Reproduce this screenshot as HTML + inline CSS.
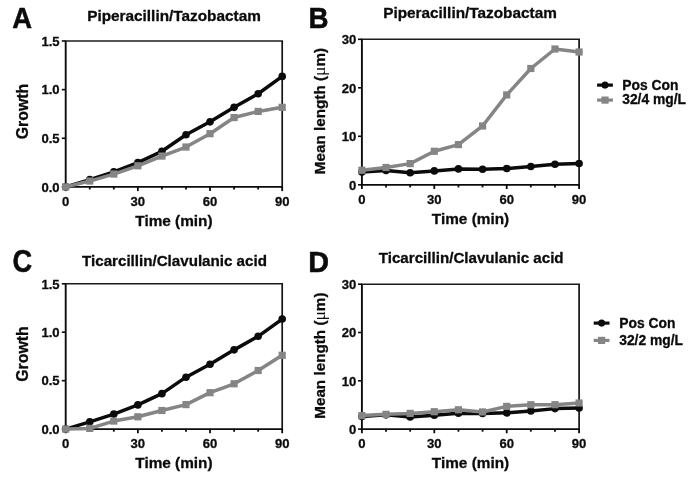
<!DOCTYPE html>
<html><head><meta charset="utf-8"><title>Figure</title>
<style>
html,body{margin:0;padding:0;background:#fff;}
body{width:697px;height:485px;overflow:hidden;}
svg{display:block;will-change:transform;}
text{font-family:"Liberation Sans",sans-serif;font-weight:bold;fill:#0b0b0b;stroke:#0b0b0b;stroke-width:0.3px;stroke-linejoin:round;}
.tk{font-size:13.5px;}
.ax{font-size:15.35px;}
.lt{font-size:28px;stroke-width:0.5px;}
.lg{font-size:13.85px;}
.mu{font-family:"Liberation Serif",serif;font-weight:normal;stroke-width:0;font-size:17.5px;}
</style></head><body>
<svg width="697" height="485" viewBox="0 0 697 485">
<rect x="0" y="0" width="697" height="485" fill="#ffffff"/>

<!-- panel A -->
<g>
<text class="lt" transform="translate(12.2,27.9) scale(0.98,1.05)">A</text>
<text x="174.0" y="20.7" font-size="15.35" text-anchor="middle">Piperacillin/Tazobactam</text>
<line x1="64.7" x2="283.1" y1="41" y2="41" stroke="#1c1c1c" stroke-width="1.45"/>
<line x1="282.2" x2="282.2" y1="41" y2="187.75" stroke="#141414" stroke-width="1.7"/>
<line x1="64.7" x2="282.2" y1="186.9" y2="186.9" stroke="#0b0b0b" stroke-width="1.7"/>
<line x1="65.7" x2="65.7" y1="41" y2="186.9" stroke="#0b0b0b" stroke-width="1.9"/>
<line x1="65.7" x2="65.7" y1="186.9" y2="191.1" stroke="#0b0b0b" stroke-width="1.8"/>
<line x1="89.76" x2="89.76" y1="186.9" y2="189.5" stroke="#0b0b0b" stroke-width="1.8"/>
<line x1="113.81" x2="113.81" y1="186.9" y2="189.5" stroke="#0b0b0b" stroke-width="1.8"/>
<line x1="137.87" x2="137.87" y1="186.9" y2="191.1" stroke="#0b0b0b" stroke-width="1.8"/>
<line x1="161.92" x2="161.92" y1="186.9" y2="189.5" stroke="#0b0b0b" stroke-width="1.8"/>
<line x1="185.98" x2="185.98" y1="186.9" y2="189.5" stroke="#0b0b0b" stroke-width="1.8"/>
<line x1="210.03" x2="210.03" y1="186.9" y2="191.1" stroke="#0b0b0b" stroke-width="1.8"/>
<line x1="234.09" x2="234.09" y1="186.9" y2="189.5" stroke="#0b0b0b" stroke-width="1.8"/>
<line x1="258.14" x2="258.14" y1="186.9" y2="189.5" stroke="#0b0b0b" stroke-width="1.8"/>
<line x1="282.2" x2="282.2" y1="186.9" y2="191.1" stroke="#0b0b0b" stroke-width="1.8"/>
<text class="tk" transform="translate(65.7,206.1) scale(0.97,1)" text-anchor="middle">0</text>
<text class="tk" transform="translate(137.87,206.1) scale(0.97,1)" text-anchor="middle">30</text>
<text class="tk" transform="translate(210.03,206.1) scale(0.97,1)" text-anchor="middle">60</text>
<text class="tk" transform="translate(282.2,206.1) scale(0.97,1)" text-anchor="middle">90</text>
<line x1="61.8" x2="65.7" y1="186.9" y2="186.9" stroke="#0b0b0b" stroke-width="1.6"/>
<text class="tk" transform="translate(59.6,191.7) scale(0.97,1)" text-anchor="end">0.0</text>
<line x1="61.8" x2="65.7" y1="138.27" y2="138.27" stroke="#0b0b0b" stroke-width="1.6"/>
<text class="tk" transform="translate(59.6,143.07) scale(0.97,1)" text-anchor="end">0.5</text>
<line x1="61.8" x2="65.7" y1="89.63" y2="89.63" stroke="#0b0b0b" stroke-width="1.6"/>
<text class="tk" transform="translate(59.6,94.43) scale(0.97,1)" text-anchor="end">1.0</text>
<line x1="61.8" x2="65.7" y1="41" y2="41" stroke="#0b0b0b" stroke-width="1.6"/>
<text class="tk" transform="translate(59.6,45.8) scale(0.97,1)" text-anchor="end">1.5</text>
<polyline points="65.7,186.9 89.76,179.61 113.81,171.82 137.87,162.58 161.92,151.3 185.98,134.77 210.03,121.83 234.09,107.34 258.14,93.72 282.2,76.41" fill="none" stroke="#0b0b0b" stroke-width="3.5" stroke-linejoin="round" stroke-linecap="round"/>
<circle cx="65.7" cy="186.9" r="3.8" fill="#0b0b0b"/>
<circle cx="89.76" cy="179.61" r="3.8" fill="#0b0b0b"/>
<circle cx="113.81" cy="171.82" r="3.8" fill="#0b0b0b"/>
<circle cx="137.87" cy="162.58" r="3.8" fill="#0b0b0b"/>
<circle cx="161.92" cy="151.3" r="3.8" fill="#0b0b0b"/>
<circle cx="185.98" cy="134.77" r="3.8" fill="#0b0b0b"/>
<circle cx="210.03" cy="121.83" r="3.8" fill="#0b0b0b"/>
<circle cx="234.09" cy="107.34" r="3.8" fill="#0b0b0b"/>
<circle cx="258.14" cy="93.72" r="3.8" fill="#0b0b0b"/>
<circle cx="282.2" cy="76.41" r="3.8" fill="#0b0b0b"/>
<polyline points="65.7,186.9 89.76,181.06 113.81,174.06 137.87,165.79 161.92,156.07 185.98,147.02 210.03,133.7 234.09,117.55 258.14,111.42 282.2,107.34" fill="none" stroke="#858585" stroke-width="3.5" stroke-linejoin="round" stroke-linecap="round"/>
<rect x="62.1" y="183.3" width="7.2" height="7.2" fill="#858585"/>
<rect x="86.16" y="177.46" width="7.2" height="7.2" fill="#858585"/>
<rect x="110.21" y="170.46" width="7.2" height="7.2" fill="#858585"/>
<rect x="134.27" y="162.19" width="7.2" height="7.2" fill="#858585"/>
<rect x="158.32" y="152.47" width="7.2" height="7.2" fill="#858585"/>
<rect x="182.38" y="143.42" width="7.2" height="7.2" fill="#858585"/>
<rect x="206.43" y="130.1" width="7.2" height="7.2" fill="#858585"/>
<rect x="230.49" y="113.95" width="7.2" height="7.2" fill="#858585"/>
<rect x="254.54" y="107.82" width="7.2" height="7.2" fill="#858585"/>
<rect x="278.6" y="103.74" width="7.2" height="7.2" fill="#858585"/>
<text class="ax" x="173.95" y="225.7" text-anchor="middle">Time (min)</text>
<text class="ax" style="font-size:15.9px" transform="translate(28.0,111.55) rotate(-90)" text-anchor="middle">Growth</text>
</g>
<!-- panel B -->
<g>
<text class="lt" transform="translate(308.5,28.0) scale(0.99,1.05)">B</text>
<text x="470.0" y="18.2" font-size="15.35" text-anchor="middle">Piperacillin/Tazobactam</text>
<line x1="360.9" x2="580" y1="39.3" y2="39.3" stroke="#1c1c1c" stroke-width="1.45"/>
<line x1="579.1" x2="579.1" y1="39.3" y2="185.65" stroke="#141414" stroke-width="1.7"/>
<line x1="360.9" x2="579.1" y1="184.8" y2="184.8" stroke="#0b0b0b" stroke-width="1.7"/>
<line x1="361.9" x2="361.9" y1="39.3" y2="184.8" stroke="#0b0b0b" stroke-width="1.9"/>
<line x1="361.9" x2="361.9" y1="184.8" y2="189" stroke="#0b0b0b" stroke-width="1.8"/>
<line x1="386.03" x2="386.03" y1="184.8" y2="187.4" stroke="#0b0b0b" stroke-width="1.8"/>
<line x1="410.17" x2="410.17" y1="184.8" y2="187.4" stroke="#0b0b0b" stroke-width="1.8"/>
<line x1="434.3" x2="434.3" y1="184.8" y2="189" stroke="#0b0b0b" stroke-width="1.8"/>
<line x1="458.43" x2="458.43" y1="184.8" y2="187.4" stroke="#0b0b0b" stroke-width="1.8"/>
<line x1="482.57" x2="482.57" y1="184.8" y2="187.4" stroke="#0b0b0b" stroke-width="1.8"/>
<line x1="506.7" x2="506.7" y1="184.8" y2="189" stroke="#0b0b0b" stroke-width="1.8"/>
<line x1="530.83" x2="530.83" y1="184.8" y2="187.4" stroke="#0b0b0b" stroke-width="1.8"/>
<line x1="554.97" x2="554.97" y1="184.8" y2="187.4" stroke="#0b0b0b" stroke-width="1.8"/>
<line x1="579.1" x2="579.1" y1="184.8" y2="189" stroke="#0b0b0b" stroke-width="1.8"/>
<text class="tk" transform="translate(361.9,204) scale(0.97,1)" text-anchor="middle">0</text>
<text class="tk" transform="translate(434.3,204) scale(0.97,1)" text-anchor="middle">30</text>
<text class="tk" transform="translate(506.7,204) scale(0.97,1)" text-anchor="middle">60</text>
<text class="tk" transform="translate(579.1,204) scale(0.97,1)" text-anchor="middle">90</text>
<line x1="358" x2="361.9" y1="184.8" y2="184.8" stroke="#0b0b0b" stroke-width="1.6"/>
<text class="tk" transform="translate(356.3,189.6) scale(0.97,1)" text-anchor="end">0</text>
<line x1="358" x2="361.9" y1="136.3" y2="136.3" stroke="#0b0b0b" stroke-width="1.6"/>
<text class="tk" transform="translate(356.3,141.1) scale(0.97,1)" text-anchor="end">10</text>
<line x1="358" x2="361.9" y1="87.8" y2="87.8" stroke="#0b0b0b" stroke-width="1.6"/>
<text class="tk" transform="translate(356.3,92.6) scale(0.97,1)" text-anchor="end">20</text>
<line x1="358" x2="361.9" y1="39.3" y2="39.3" stroke="#0b0b0b" stroke-width="1.6"/>
<text class="tk" transform="translate(356.3,44.1) scale(0.97,1)" text-anchor="end">30</text>
<polyline points="361.9,172.09 386.03,170.49 410.17,172.68 434.3,170.88 458.43,168.89 482.57,169.18 506.7,168.5 530.83,166.52 554.97,164.24 579.1,163.56" fill="none" stroke="#0b0b0b" stroke-width="3.5" stroke-linejoin="round" stroke-linecap="round"/>
<circle cx="361.9" cy="172.09" r="3.8" fill="#0b0b0b"/>
<circle cx="386.03" cy="170.49" r="3.8" fill="#0b0b0b"/>
<circle cx="410.17" cy="172.68" r="3.8" fill="#0b0b0b"/>
<circle cx="434.3" cy="170.88" r="3.8" fill="#0b0b0b"/>
<circle cx="458.43" cy="168.89" r="3.8" fill="#0b0b0b"/>
<circle cx="482.57" cy="169.18" r="3.8" fill="#0b0b0b"/>
<circle cx="506.7" cy="168.5" r="3.8" fill="#0b0b0b"/>
<circle cx="530.83" cy="166.52" r="3.8" fill="#0b0b0b"/>
<circle cx="554.97" cy="164.24" r="3.8" fill="#0b0b0b"/>
<circle cx="579.1" cy="163.56" r="3.8" fill="#0b0b0b"/>
<polyline points="361.9,170.25 386.03,167.49 410.17,163.61 434.3,151.29 458.43,144.59 482.57,125.97 506.7,94.93 530.83,68.5 554.97,49 579.1,52.01" fill="none" stroke="#858585" stroke-width="3.5" stroke-linejoin="round" stroke-linecap="round"/>
<rect x="358.3" y="166.65" width="7.2" height="7.2" fill="#858585"/>
<rect x="382.43" y="163.89" width="7.2" height="7.2" fill="#858585"/>
<rect x="406.57" y="160.01" width="7.2" height="7.2" fill="#858585"/>
<rect x="430.7" y="147.69" width="7.2" height="7.2" fill="#858585"/>
<rect x="454.83" y="140.99" width="7.2" height="7.2" fill="#858585"/>
<rect x="478.97" y="122.37" width="7.2" height="7.2" fill="#858585"/>
<rect x="503.1" y="91.33" width="7.2" height="7.2" fill="#858585"/>
<rect x="527.23" y="64.9" width="7.2" height="7.2" fill="#858585"/>
<rect x="551.37" y="45.4" width="7.2" height="7.2" fill="#858585"/>
<rect x="575.5" y="48.41" width="7.2" height="7.2" fill="#858585"/>
<text class="ax" x="470.5" y="223.6" text-anchor="middle">Time (min)</text>
<text class="ax" style="font-size:15.25px" transform="translate(324.5,111.05) rotate(-90)" text-anchor="middle">Mean length (<tspan class="mu">μ</tspan>m)</text>
<line x1="597.1" x2="612.9" y1="85.1" y2="85.1" stroke="#0b0b0b" stroke-width="3.2"/>
<circle cx="605" cy="85.1" r="3.55" fill="#0b0b0b"/>
<line x1="597.1" x2="612.9" y1="100.1" y2="100.1" stroke="#858585" stroke-width="3.2"/>
<rect x="601.4" y="96.5" width="7.2" height="7.2" fill="#858585"/>
<text class="lg" x="622.2" y="89.5">Pos Con</text>
<text class="lg" x="622.2" y="104.4">32/4 mg/L</text>
</g>
<!-- panel C -->
<g>
<text class="lt" transform="translate(12.5,271.6) scale(0.97,1.09)">C</text>
<text x="174.5" y="266.0" font-size="15.15" text-anchor="middle">Ticarcillin/Clavulanic acid</text>
<line x1="64.7" x2="283.1" y1="283.8" y2="283.8" stroke="#1c1c1c" stroke-width="1.45"/>
<line x1="282.2" x2="282.2" y1="283.8" y2="429.95" stroke="#141414" stroke-width="1.7"/>
<line x1="64.7" x2="282.2" y1="429.1" y2="429.1" stroke="#0b0b0b" stroke-width="1.7"/>
<line x1="65.7" x2="65.7" y1="283.8" y2="429.1" stroke="#0b0b0b" stroke-width="1.9"/>
<line x1="65.7" x2="65.7" y1="429.1" y2="433.3" stroke="#0b0b0b" stroke-width="1.8"/>
<line x1="89.76" x2="89.76" y1="429.1" y2="431.7" stroke="#0b0b0b" stroke-width="1.8"/>
<line x1="113.81" x2="113.81" y1="429.1" y2="431.7" stroke="#0b0b0b" stroke-width="1.8"/>
<line x1="137.87" x2="137.87" y1="429.1" y2="433.3" stroke="#0b0b0b" stroke-width="1.8"/>
<line x1="161.92" x2="161.92" y1="429.1" y2="431.7" stroke="#0b0b0b" stroke-width="1.8"/>
<line x1="185.98" x2="185.98" y1="429.1" y2="431.7" stroke="#0b0b0b" stroke-width="1.8"/>
<line x1="210.03" x2="210.03" y1="429.1" y2="433.3" stroke="#0b0b0b" stroke-width="1.8"/>
<line x1="234.09" x2="234.09" y1="429.1" y2="431.7" stroke="#0b0b0b" stroke-width="1.8"/>
<line x1="258.14" x2="258.14" y1="429.1" y2="431.7" stroke="#0b0b0b" stroke-width="1.8"/>
<line x1="282.2" x2="282.2" y1="429.1" y2="433.3" stroke="#0b0b0b" stroke-width="1.8"/>
<text class="tk" transform="translate(65.7,448.3) scale(0.97,1)" text-anchor="middle">0</text>
<text class="tk" transform="translate(137.87,448.3) scale(0.97,1)" text-anchor="middle">30</text>
<text class="tk" transform="translate(210.03,448.3) scale(0.97,1)" text-anchor="middle">60</text>
<text class="tk" transform="translate(282.2,448.3) scale(0.97,1)" text-anchor="middle">90</text>
<line x1="61.8" x2="65.7" y1="429.1" y2="429.1" stroke="#0b0b0b" stroke-width="1.6"/>
<text class="tk" transform="translate(59.6,433.9) scale(0.97,1)" text-anchor="end">0.0</text>
<line x1="61.8" x2="65.7" y1="380.67" y2="380.67" stroke="#0b0b0b" stroke-width="1.6"/>
<text class="tk" transform="translate(59.6,385.47) scale(0.97,1)" text-anchor="end">0.5</text>
<line x1="61.8" x2="65.7" y1="332.23" y2="332.23" stroke="#0b0b0b" stroke-width="1.6"/>
<text class="tk" transform="translate(59.6,337.03) scale(0.97,1)" text-anchor="end">1.0</text>
<line x1="61.8" x2="65.7" y1="283.8" y2="283.8" stroke="#0b0b0b" stroke-width="1.6"/>
<text class="tk" transform="translate(59.6,288.6) scale(0.97,1)" text-anchor="end">1.5</text>
<polyline points="65.7,429.1 89.76,421.84 113.81,414.09 137.87,404.88 161.92,393.65 185.98,377.18 210.03,364.3 234.09,349.86 258.14,336.3 282.2,319.06" fill="none" stroke="#0b0b0b" stroke-width="3.5" stroke-linejoin="round" stroke-linecap="round"/>
<circle cx="65.7" cy="429.1" r="3.8" fill="#0b0b0b"/>
<circle cx="89.76" cy="421.84" r="3.8" fill="#0b0b0b"/>
<circle cx="113.81" cy="414.09" r="3.8" fill="#0b0b0b"/>
<circle cx="137.87" cy="404.88" r="3.8" fill="#0b0b0b"/>
<circle cx="161.92" cy="393.65" r="3.8" fill="#0b0b0b"/>
<circle cx="185.98" cy="377.18" r="3.8" fill="#0b0b0b"/>
<circle cx="210.03" cy="364.3" r="3.8" fill="#0b0b0b"/>
<circle cx="234.09" cy="349.86" r="3.8" fill="#0b0b0b"/>
<circle cx="258.14" cy="336.3" r="3.8" fill="#0b0b0b"/>
<circle cx="282.2" cy="319.06" r="3.8" fill="#0b0b0b"/>
<polyline points="65.7,429.1 89.76,428.42 113.81,421.06 137.87,416.8 161.92,410.5 185.98,404.59 210.03,392.68 234.09,383.77 258.14,370.5 282.2,355.29" fill="none" stroke="#858585" stroke-width="3.5" stroke-linejoin="round" stroke-linecap="round"/>
<rect x="62.1" y="425.5" width="7.2" height="7.2" fill="#858585"/>
<rect x="86.16" y="424.82" width="7.2" height="7.2" fill="#858585"/>
<rect x="110.21" y="417.46" width="7.2" height="7.2" fill="#858585"/>
<rect x="134.27" y="413.2" width="7.2" height="7.2" fill="#858585"/>
<rect x="158.32" y="406.9" width="7.2" height="7.2" fill="#858585"/>
<rect x="182.38" y="400.99" width="7.2" height="7.2" fill="#858585"/>
<rect x="206.43" y="389.08" width="7.2" height="7.2" fill="#858585"/>
<rect x="230.49" y="380.17" width="7.2" height="7.2" fill="#858585"/>
<rect x="254.54" y="366.9" width="7.2" height="7.2" fill="#858585"/>
<rect x="278.6" y="351.69" width="7.2" height="7.2" fill="#858585"/>
<text class="ax" x="173.95" y="467.9" text-anchor="middle">Time (min)</text>
<text class="ax" style="font-size:15.9px" transform="translate(28.0,354.05) rotate(-90)" text-anchor="middle">Growth</text>
</g>
<!-- panel D -->
<g>
<text class="lt" transform="translate(308.3,271.8) scale(1.03,1.05)">D</text>
<text x="471.2" y="262.9" font-size="15.15" text-anchor="middle">Ticarcillin/Clavulanic acid</text>
<line x1="360.9" x2="580" y1="284.2" y2="284.2" stroke="#1c1c1c" stroke-width="1.45"/>
<line x1="579.1" x2="579.1" y1="284.2" y2="429.95" stroke="#141414" stroke-width="1.7"/>
<line x1="360.9" x2="579.1" y1="429.1" y2="429.1" stroke="#0b0b0b" stroke-width="1.7"/>
<line x1="361.9" x2="361.9" y1="284.2" y2="429.1" stroke="#0b0b0b" stroke-width="1.9"/>
<line x1="361.9" x2="361.9" y1="429.1" y2="433.3" stroke="#0b0b0b" stroke-width="1.8"/>
<line x1="386.03" x2="386.03" y1="429.1" y2="431.7" stroke="#0b0b0b" stroke-width="1.8"/>
<line x1="410.17" x2="410.17" y1="429.1" y2="431.7" stroke="#0b0b0b" stroke-width="1.8"/>
<line x1="434.3" x2="434.3" y1="429.1" y2="433.3" stroke="#0b0b0b" stroke-width="1.8"/>
<line x1="458.43" x2="458.43" y1="429.1" y2="431.7" stroke="#0b0b0b" stroke-width="1.8"/>
<line x1="482.57" x2="482.57" y1="429.1" y2="431.7" stroke="#0b0b0b" stroke-width="1.8"/>
<line x1="506.7" x2="506.7" y1="429.1" y2="433.3" stroke="#0b0b0b" stroke-width="1.8"/>
<line x1="530.83" x2="530.83" y1="429.1" y2="431.7" stroke="#0b0b0b" stroke-width="1.8"/>
<line x1="554.97" x2="554.97" y1="429.1" y2="431.7" stroke="#0b0b0b" stroke-width="1.8"/>
<line x1="579.1" x2="579.1" y1="429.1" y2="433.3" stroke="#0b0b0b" stroke-width="1.8"/>
<text class="tk" transform="translate(361.9,448.3) scale(0.97,1)" text-anchor="middle">0</text>
<text class="tk" transform="translate(434.3,448.3) scale(0.97,1)" text-anchor="middle">30</text>
<text class="tk" transform="translate(506.7,448.3) scale(0.97,1)" text-anchor="middle">60</text>
<text class="tk" transform="translate(579.1,448.3) scale(0.97,1)" text-anchor="middle">90</text>
<line x1="358" x2="361.9" y1="429.1" y2="429.1" stroke="#0b0b0b" stroke-width="1.6"/>
<text class="tk" transform="translate(356.3,433.9) scale(0.97,1)" text-anchor="end">0</text>
<line x1="358" x2="361.9" y1="380.8" y2="380.8" stroke="#0b0b0b" stroke-width="1.6"/>
<text class="tk" transform="translate(356.3,385.6) scale(0.97,1)" text-anchor="end">10</text>
<line x1="358" x2="361.9" y1="332.5" y2="332.5" stroke="#0b0b0b" stroke-width="1.6"/>
<text class="tk" transform="translate(356.3,337.3) scale(0.97,1)" text-anchor="end">20</text>
<line x1="358" x2="361.9" y1="284.2" y2="284.2" stroke="#0b0b0b" stroke-width="1.6"/>
<text class="tk" transform="translate(356.3,289) scale(0.97,1)" text-anchor="end">30</text>
<polyline points="361.9,416.45 386.03,414.85 410.17,417.03 434.3,415.24 458.43,413.26 482.57,413.55 506.7,412.87 530.83,410.89 554.97,408.62 579.1,407.94" fill="none" stroke="#0b0b0b" stroke-width="3.5" stroke-linejoin="round" stroke-linecap="round"/>
<circle cx="361.9" cy="416.45" r="3.8" fill="#0b0b0b"/>
<circle cx="386.03" cy="414.85" r="3.8" fill="#0b0b0b"/>
<circle cx="410.17" cy="417.03" r="3.8" fill="#0b0b0b"/>
<circle cx="434.3" cy="415.24" r="3.8" fill="#0b0b0b"/>
<circle cx="458.43" cy="413.26" r="3.8" fill="#0b0b0b"/>
<circle cx="482.57" cy="413.55" r="3.8" fill="#0b0b0b"/>
<circle cx="506.7" cy="412.87" r="3.8" fill="#0b0b0b"/>
<circle cx="530.83" cy="410.89" r="3.8" fill="#0b0b0b"/>
<circle cx="554.97" cy="408.62" r="3.8" fill="#0b0b0b"/>
<circle cx="579.1" cy="407.94" r="3.8" fill="#0b0b0b"/>
<polyline points="361.9,415.58 386.03,414.37 410.17,413.4 434.3,411.71 458.43,409.78 482.57,411.95 506.7,406.4 530.83,404.71 554.97,404.71 579.1,403.02" fill="none" stroke="#858585" stroke-width="3.5" stroke-linejoin="round" stroke-linecap="round"/>
<rect x="358.3" y="411.98" width="7.2" height="7.2" fill="#858585"/>
<rect x="382.43" y="410.77" width="7.2" height="7.2" fill="#858585"/>
<rect x="406.57" y="409.8" width="7.2" height="7.2" fill="#858585"/>
<rect x="430.7" y="408.11" width="7.2" height="7.2" fill="#858585"/>
<rect x="454.83" y="406.18" width="7.2" height="7.2" fill="#858585"/>
<rect x="478.97" y="408.35" width="7.2" height="7.2" fill="#858585"/>
<rect x="503.1" y="402.8" width="7.2" height="7.2" fill="#858585"/>
<rect x="527.23" y="401.11" width="7.2" height="7.2" fill="#858585"/>
<rect x="551.37" y="401.11" width="7.2" height="7.2" fill="#858585"/>
<rect x="575.5" y="399.42" width="7.2" height="7.2" fill="#858585"/>
<text class="ax" x="470.5" y="467.9" text-anchor="middle">Time (min)</text>
<text class="ax" style="font-size:15.25px" transform="translate(324.5,355.65) rotate(-90)" text-anchor="middle">Mean length (<tspan class="mu">μ</tspan>m)</text>
<line x1="593.7" x2="609.5" y1="323.1" y2="323.1" stroke="#0b0b0b" stroke-width="3.2"/>
<circle cx="601.6" cy="323.1" r="3.55" fill="#0b0b0b"/>
<line x1="593.7" x2="609.5" y1="340.4" y2="340.4" stroke="#858585" stroke-width="3.2"/>
<rect x="598" y="336.8" width="7.2" height="7.2" fill="#858585"/>
<text class="lg" x="619.2" y="327.5">Pos Con</text>
<text class="lg" x="619.2" y="344.7">32/2 mg/L</text>
</g>
</svg>
</body></html>
